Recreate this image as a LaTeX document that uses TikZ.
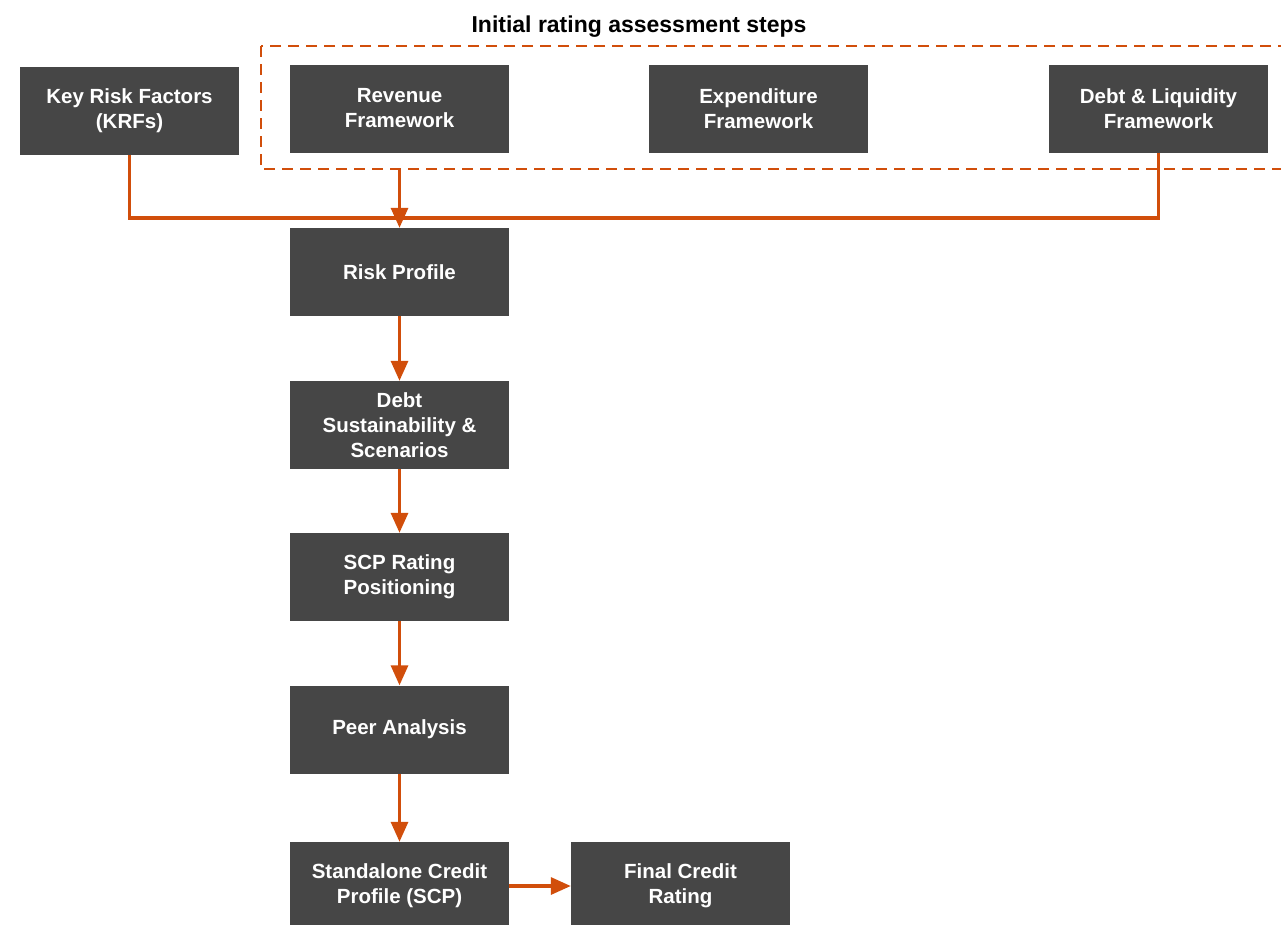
\documentclass[tikz,border=0pt]{standalone}
\usepackage{fontspec}
\setmainfont{Liberation Sans}
\usetikzlibrary{arrows.meta}
\definecolor{boxgray}{HTML}{464646}
\definecolor{flowred}{HTML}{D14E0B}

\begin{document}
\begin{tikzpicture}[x=1pt, y=-1pt,
    stepbox/.style={fill=boxgray, text=white, minimum width=219pt, minimum height=88pt,
      align=center, font=\fontsize{20.5}{25}\selectfont\bfseries, inner sep=0pt},
    dashbox/.style={draw=flowred, dash pattern=on 11pt off 7pt, line width=2.8pt},
    flow/.style={draw=flowred, line width=3.2pt},
    tip/.style={-{Triangle[length=20pt, width=17pt]}}]
      \useasboundingbox (0,0) rectangle (1281,924);
      % top row
      \draw[dashbox] (261,46) rectangle (1300,169);
      \node[font=\fontsize{23}{25}\selectfont\bfseries] (title) at (639,27) {Initial rating assessment steps};
      \node[stepbox] (krf) at (129.5,110.5) {Key Risk Factors\\(KRFs)};
      \node[stepbox] (rev) at (399.5,108.5) {Revenue\\Framework};
      \node[stepbox] (exp) at (758.5,108.5) {Expenditure\\Framework};
      \node[stepbox] (debt) at (1158.5,108.5) {Debt \& Liquidity\\Framework};
      \coordinate (frame) at (399.5,169);
      \coordinate (join) at (399.5,218);
      % main column
      \node[stepbox] (risk) at (399.5,272) {Risk Profile};
      \node[stepbox] (sust) at (399.5,425) {Debt\\Sustainability \&\\Scenarios};
      \node[stepbox] (pos) at (399.5,577) {SCP Rating\\Positioning};
      \node[stepbox] (peer) at (399.5,729.5) {Peer Analysis};
      \node[stepbox] (scp) at (399.5,886) {Standalone Credit\\Profile (SCP)};
      \node[stepbox] (final) at (680.5,886) {Final Credit\\Rating};
      % connectors
      \draw[flow] (krf.south) |- (join);
      \draw[flow] (debt.south) |- (join);
      \draw[flow, tip] (frame) -- (risk.north);
      \draw[flow, tip] (risk) -- (sust);
      \draw[flow, tip] (sust) -- (pos);
      \draw[flow, tip] (pos) -- (peer);
      \draw[flow, tip] (peer) -- (scp);
      \draw[flow, tip] (scp) -- (final);
    \end{tikzpicture}
\end{document}
